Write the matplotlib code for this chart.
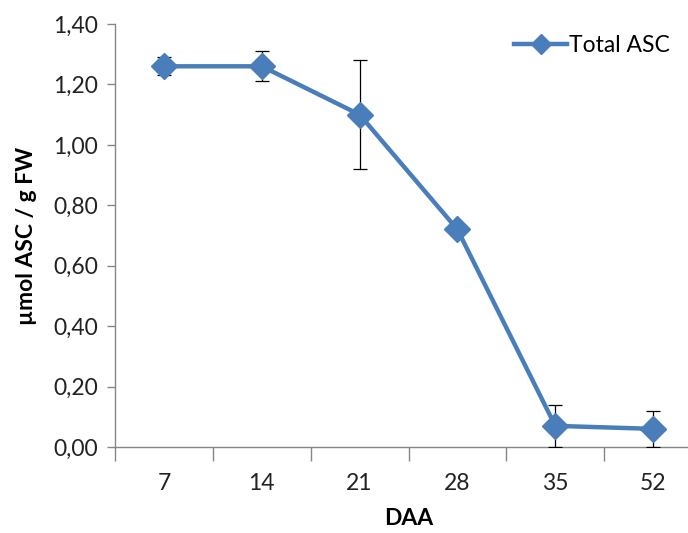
import matplotlib
matplotlib.use("Agg")
import matplotlib.pyplot as plt
from matplotlib.ticker import FuncFormatter
from matplotlib.lines import Line2D

categories = ["7", "14", "21", "28", "35", "52"]
total_asc = [1.26, 1.26, 1.10, 0.72, 0.07, 0.06]
errors = [0.03, 0.05, 0.18, 0.01, 0.07, 0.06]
y_ticks = [0.0, 0.2, 0.4, 0.6, 0.8, 1.0, 1.2, 1.4]

plt.rcParams['font.family'] = ['Lato', 'DejaVu Sans']

fig = plt.figure(figsize=(6.88, 5.33), dpi=100)
ax = fig.add_axes([115/688, 86/533, 587/688, 423/533])

x = list(range(len(categories)))
color = '#4A7EBB'
ax.errorbar(x, total_asc, yerr=errors, color=color, lw=3.2, marker='D', ms=13,
            ecolor='black', elinewidth=0.9, capsize=5, capthick=0.9, zorder=3)

ax.set_xlim(-0.5, len(categories) - 0.5)
ax.set_ylim(0, 1.4)
ax.set_yticks(y_ticks)
ax.yaxis.set_major_formatter(FuncFormatter(lambda v, p: f"{v:.2f}".replace('.', ',')))
ax.set_xticks(x)
ax.set_xticklabels(categories)
ax.set_xticks([i - 0.5 for i in range(len(categories) + 1)], minor=True)
ax.tick_params(axis='x', which='major', length=0, pad=19, labelsize=16.5, colors='#222222')
ax.tick_params(axis='x', which='minor', length=10, color='#868686', width=1)
ax.tick_params(axis='y', length=6, color='#868686', width=1, labelsize=16.5, colors='#222222', pad=6)

for s in ['top', 'right']:
    ax.spines[s].set_visible(False)
for s in ['left', 'bottom']:
    ax.spines[s].set_color('#868686')
    ax.spines[s].set_linewidth(1)

ax.set_xlabel('DAA', fontsize=16.5, fontweight='bold', labelpad=10)
ax.set_ylabel('µmol ASC / g FW', fontsize=16.5, fontweight='bold', labelpad=12)

handle = Line2D([], [], color=color, lw=3.2, marker='D', ms=10)
fig.legend([handle], ['Total ASC'], loc='center left', bbox_to_anchor=(505/688, 1 - 46/533),
           bbox_transform=fig.transFigure, frameon=False, fontsize=16.5,
           handlelength=2.3, handletextpad=0.1, borderaxespad=0.0)

fig.savefig('out.png', dpi=100)
